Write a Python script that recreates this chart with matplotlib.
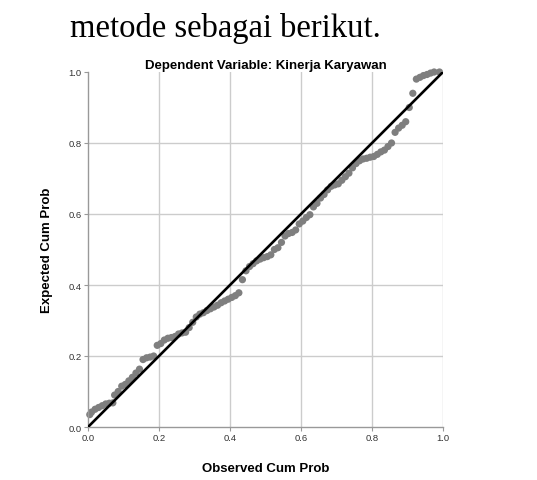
import matplotlib
matplotlib.use("Agg")
import matplotlib.pyplot as plt

observed = [0.005, 0.01, 0.02, 0.03, 0.04, 0.05, 0.06, 0.07, 0.075, 0.085, 0.095, 0.105,
            0.115, 0.125, 0.135, 0.145, 0.155, 0.165, 0.175, 0.185, 0.195, 0.205, 0.215,
            0.225, 0.235, 0.245, 0.255, 0.265, 0.275, 0.285, 0.295, 0.305, 0.315, 0.325,
            0.335, 0.345, 0.355, 0.365, 0.375, 0.385, 0.395, 0.405, 0.415, 0.425, 0.435,
            0.445, 0.455, 0.465, 0.475, 0.485, 0.495, 0.505, 0.515, 0.525, 0.535, 0.545,
            0.555, 0.565, 0.575, 0.585, 0.595, 0.605, 0.615, 0.625, 0.635, 0.645, 0.655,
            0.665, 0.675, 0.685, 0.695, 0.705, 0.715, 0.725, 0.735, 0.745, 0.755, 0.765,
            0.775, 0.785, 0.795, 0.805, 0.815, 0.825, 0.835, 0.845, 0.855, 0.865, 0.875,
            0.885, 0.895, 0.905, 0.915, 0.925, 0.935, 0.945, 0.955, 0.965, 0.975, 0.99]
expected = [0.035, 0.042, 0.05, 0.055, 0.06, 0.065, 0.067, 0.068, 0.09, 0.1, 0.115, 0.12,
            0.13, 0.14, 0.152, 0.163, 0.19, 0.195, 0.197, 0.2, 0.23, 0.235, 0.245,
            0.25, 0.252, 0.255, 0.262, 0.265, 0.267, 0.28, 0.295, 0.31, 0.318, 0.322,
            0.328, 0.333, 0.338, 0.343, 0.35, 0.355, 0.36, 0.365, 0.37, 0.378, 0.415,
            0.44, 0.452, 0.46, 0.468, 0.473, 0.477, 0.48, 0.485, 0.5, 0.505, 0.52,
            0.538, 0.545, 0.548, 0.555, 0.572, 0.58, 0.59, 0.598, 0.62, 0.63, 0.645,
            0.655, 0.668, 0.678, 0.682, 0.685, 0.695, 0.705, 0.715, 0.73, 0.742, 0.75,
            0.755, 0.757, 0.76, 0.762, 0.768, 0.775, 0.78, 0.79, 0.8, 0.83, 0.842,
            0.85, 0.86, 0.9, 0.94, 0.98, 0.985, 0.99, 0.993, 0.997, 1.0, 1.0]
ticks = [0.0, 0.2, 0.4, 0.6, 0.8, 1.0]
tick_labels = ["0.0", "0.2", "0.4", "0.6", "0.8", "1.0"]

plt.rcParams['font.family'] = ['Liberation Sans', 'DejaVu Sans']

fig = plt.figure(figsize=(5.37, 4.81), dpi=100)
ax = fig.add_axes([88/537, 1-428/481, 355/537, 355/481])

fig.text(70/537, 1-37/481, "metode sebagai berikut.", family=['Liberation Serif'],
         fontsize=23.5, color='black', ha='left', va='baseline')

ax.set_xlim(0, 1)
ax.set_ylim(0, 1)
for t in ticks[1:]:
    ax.axvline(t, color='#cccccc', lw=1.0, zorder=0)
for t in ticks[1:-1]:
    ax.axhline(t, color='#cccccc', lw=1.0, zorder=0)

ax.scatter(observed, expected, s=27, color='#7f7f7f', edgecolors='none', zorder=2, clip_on=False)
ax.plot([0, 1], [0, 1], color='black', lw=1.9, zorder=3)

for s in ['top', 'right']:
    ax.spines[s].set_visible(False)
for s in ['left', 'bottom']:
    ax.spines[s].set_color('#999999')
    ax.spines[s].set_linewidth(1.0)

ax.set_xticks(ticks)
ax.set_xticklabels(tick_labels)
ax.set_yticks(ticks)
ax.set_yticklabels(tick_labels)
ax.tick_params(length=3, width=0.8, color='#999999', labelsize=6.8, labelcolor='#333333', pad=1.5)

ax.set_title("Dependent Variable: Kinerja Karyawan", fontsize=9.5, fontweight='bold', pad=3)
ax.set_xlabel("Observed Cum Prob", fontsize=9.5, fontweight='bold', labelpad=14)
ax.set_ylabel("Expected Cum Prob", fontsize=9.5, fontweight='bold', labelpad=11)

fig.savefig("out.png", dpi=100)
